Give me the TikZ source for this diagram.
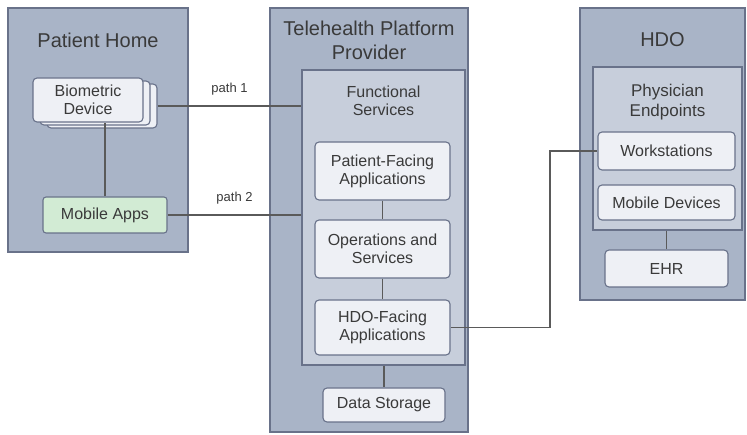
\documentclass[tikz,border=0pt]{standalone}
\usepackage{fontspec}
\setmainfont{Liberation Sans}
\usetikzlibrary{positioning}
\definecolor{outerfill}{HTML}{A9B4C7}
\definecolor{innerfill}{HTML}{C7CEDB}
\definecolor{leaffill}{HTML}{EEF0F5}
\definecolor{greenfill}{HTML}{D2EBD4}
\definecolor{edge}{HTML}{69728A}
\definecolor{txt}{HTML}{3A3A3A}
\definecolor{conn}{HTML}{5A5A5A}
\tikzset{
  x=1pt, y=-1pt,
  every node/.style={font=\fontsize{16}{18}\selectfont, text=txt, align=center, inner sep=0pt},
  outerbox/.style={draw=edge, line width=1.2pt, fill=outerfill},
  innerbox/.style={draw=edge, line width=1.1pt, fill=innerfill},
  leafbox/.style={draw=edge, line width=1.1pt, fill=leaffill, rounded corners=4pt},
  greenbox/.style={draw=edge, line width=1.1pt, fill=greenfill, rounded corners=3pt},
  titletext/.style={font=\fontsize{20}{24}\selectfont},
  link/.style={draw=conn, line width=1.4pt},
  pathlabel/.style={font=\fontsize{13}{15}\selectfont, fill=white, inner sep=1pt}
}
\begin{document}
\begin{tikzpicture}
\fill[white] (0,0) rectangle (747,435);
\useasboundingbox (0,0) rectangle (747,435);

% outer containers
\node[outerbox, minimum width=180pt, minimum height=244pt] (home) at (98,130) {};
\node[outerbox, minimum width=198pt, minimum height=424pt] (tele) at (369,220) {};
\node[outerbox, minimum width=165pt, minimum height=292pt] (hdo) at (662.5,154) {};

\node[titletext] (hometitle) at (98,40) {Patient Home};
\node[titletext] (teletitle) at (369,40) {Telehealth Platform\\Provider};
\node[titletext] (hdotitle) at (662.5,40) {HDO};

% inner containers
\node[innerbox, minimum width=163pt, minimum height=295pt] (fs) at (383.5,217.5) {};
\node (fstitle) at (383.5,101) {Functional\\Services};
\node[innerbox, minimum width=149pt, minimum height=163pt] (pe) at (667.5,148.5) {};
\node[font=\fontsize{17}{20}\selectfont] (petitle) at (667.5,102) {Physician\\Endpoints};

% biometric device stack
\node[leafbox, minimum width=110pt, minimum height=44pt] (bio3) at (102,106) {};
\node[leafbox, minimum width=110pt, minimum height=44pt] (bio2) at (95,103) {};
\node[leafbox, minimum width=110pt, minimum height=44pt] (bio) at (88,100) {Biometric\\Device};

\node[greenbox, minimum width=124pt, minimum height=36pt] (mobile) at (105,215) {Mobile Apps};

% telehealth leaves
\node[leafbox, minimum width=135pt, minimum height=58pt] (pf) at (382.5,171) {Patient-Facing\\Applications};
\node[leafbox, minimum width=135pt, minimum height=58pt] (ops) at (382.5,249) {Operations and\\Services};
\node[leafbox, minimum width=135pt, minimum height=55pt] (hdof) at (382.5,327.5) {HDO-Facing\\Applications};
\node[leafbox, minimum width=122pt, minimum height=34pt] (ds) at (384,405) {Data Storage};

% HDO leaves
\node[leafbox, minimum width=137pt, minimum height=38pt] (ws) at (666.5,151) {Workstations};
\node[leafbox, minimum width=137pt, minimum height=35pt] (md) at (666.5,202.5) {Mobile Devices};
\node[leafbox, minimum width=123pt, minimum height=37pt] (ehr) at (666.5,268.5) {EHR};

% connectors
\draw[link] (mobile.north) -- (mobile.north |- bio.south);
\draw[link] (bio3.east) -- node[pathlabel, above=9pt] (p1) {path 1} (bio3.east -| fs.west);
\draw[link] (mobile.east) -- node[pathlabel, above=9pt] (p2) {path 2} (mobile.east -| fs.west);
\draw[link] (pf.south) -- (ops.north);
\draw[link] (ops.south) -- (hdof.north);
\draw[link] (fs.south -| ds.north) -- (ds.north);
\draw[link] (pe.south -| ehr.north) -- (ehr.north);
\coordinate (elbow) at (550,0);
\draw[link] (hdof.east) -| (elbow |- ws.west) -- (ws.west);
\end{tikzpicture}
\end{document}
